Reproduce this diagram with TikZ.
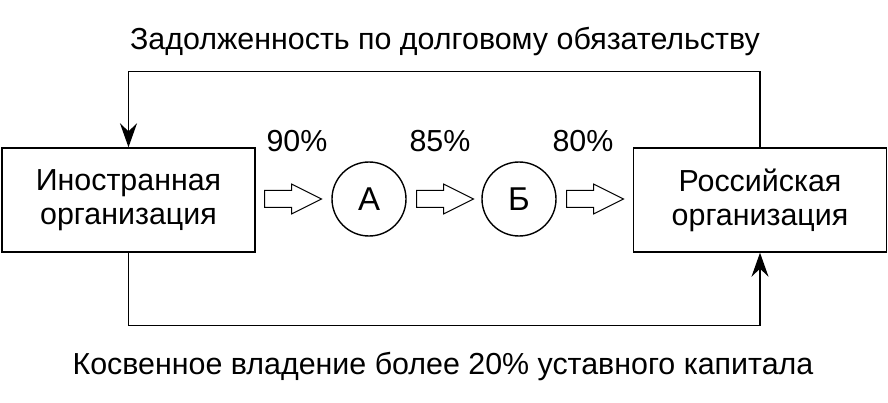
\documentclass[tikz,border=0pt]{standalone}
\usepackage{fontspec}
\setmainfont{Liberation Sans}
\usetikzlibrary{positioning,
	shapes.arrows,
	arrows.meta}

\tikzset{
	org/.style={draw, line width=0.7pt, minimum width=126.5pt, minimum height=52pt, align=center, inner sep=0pt},
	firm/.style={draw, circle, line width=0.7pt, minimum size=37pt, inner sep=0pt, font=\fontsize{16.5}{18}\selectfont},
	share/.style={draw, single arrow, line width=0.5pt, minimum height=28.5pt, minimum width=14pt, inner sep=4pt, single arrow head extend=3.2pt, single arrow tip angle=53, anchor=tail}
	,debt/.style={line width=0.7pt, -{Stealth[length=12pt, width=8.5pt, inset=4pt]}}
}

\begin{document}
\begin{tikzpicture}[font=\fontsize{15.2}{17}\selectfont]
                        \useasboundingbox (0,0) rectangle (444pt,201pt);
                        \node (foreign) [org] at (64.25pt,101pt) {Иностранная\\организация};
                        \node (russian) [org] at (380pt,101pt) {Российская\\организация};
                        \node (A) [firm] at (184.5pt,101.5pt) {А};
                        \node (B) [firm] at (259.5pt,101.5pt) {Б};
                        \node (s1) [share] at (132pt,101.5pt) {};
                        \node (s2) [share] at (208pt,101.5pt) {};
                        \node (s3) [share] at (283pt,101.5pt) {};
                        \node (p1) at (148.5pt,130.5pt) {90\%};
                        \node (p2) at (220pt,130.5pt) {85\%};
                        \node (p3) at (291.5pt,130.5pt) {80\%};
                        % loan goes back from the Russian company
                        \draw[debt] (russian.north) -- ++(0,38pt) -| (foreign.north);
                        \node (loan) at (222.5pt,180pt) {Задолженность по долговому обязательству};
                        % indirect ownership
                        \draw[debt] (foreign.south) -- ++(0,-36.5pt) -| (russian.south);
                        \node (own) at (221.5pt,17.5pt) {Косвенное владение более 20\% уставного капитала};
                    \end{tikzpicture}
\end{document}
